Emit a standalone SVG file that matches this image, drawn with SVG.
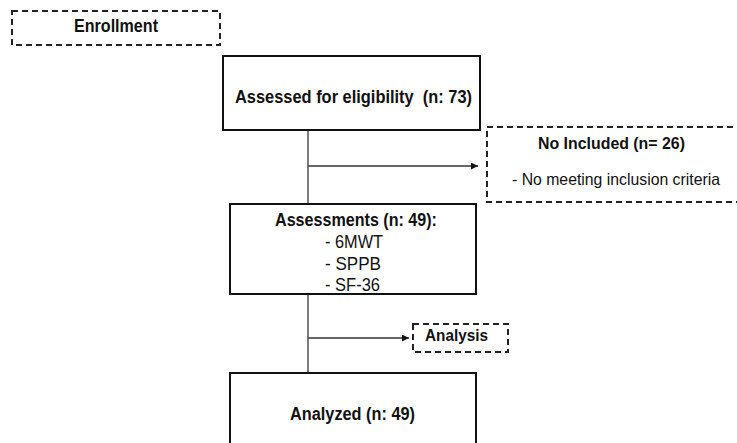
<svg xmlns="http://www.w3.org/2000/svg" width="737" height="443" viewBox="0 0 737 443">
<defs>
<style>
.box{fill:#fff;stroke:#111;stroke-width:2}
.dash{fill:#fff;stroke:#222;stroke-width:2;stroke-dasharray:6,4}
.t{font-family:"Liberation Sans",Arial,sans-serif;font-size:18px;fill:#111;text-anchor:middle}
.s{font-size:16.5px}
.b{font-weight:bold}
.conn{stroke:#333;stroke-width:1.3;fill:none}
</style>
<marker id="arr" viewBox="0 0 10 10" refX="10" refY="5" markerWidth="8" markerHeight="7" markerUnits="userSpaceOnUse" orient="auto"><path d="M0,0L10,5L0,10z" fill="#111"/></marker>
</defs>
<rect width="737" height="443" fill="#fff"/>
<g id="connectors">
<line class="conn" x1="308" y1="130" x2="308" y2="204"/>
<line class="conn" x1="308" y1="166" x2="478" y2="166" marker-end="url(#arr)"/>
<line class="conn" x1="308" y1="294" x2="308" y2="373"/>
<line class="conn" x1="308" y1="338" x2="409" y2="338" marker-end="url(#arr)"/>
</g>
<g id="enrollment">
<rect class="dash" x="12" y="11" width="208" height="34"/>
<text class="t b" x="116" y="32" textLength="84" lengthAdjust="spacingAndGlyphs">Enrollment</text>
</g>
<g id="assessed">
<rect class="box" x="223" y="56" width="257" height="74"/>
<text class="t b" x="353.5" y="102.5" textLength="237" lengthAdjust="spacingAndGlyphs" xml:space="preserve">Assessed for eligibility  (n: 73)</text>
</g>
<g id="excluded">
<rect class="dash" x="487" y="127" width="260" height="75"/>
<text class="t s b" x="611.5" y="149" textLength="147" lengthAdjust="spacingAndGlyphs">No Included (n= 26)</text>
<text class="t s" x="616" y="185" textLength="208" lengthAdjust="spacingAndGlyphs">- No meeting inclusion criteria</text>
</g>
<g id="assessments">
<rect class="box" x="230" y="204" width="246" height="90"/>
<text class="t b" x="356" y="226" textLength="162" lengthAdjust="spacingAndGlyphs">Assessments (n: 49):</text>
<text class="t" x="354" y="248" textLength="58" lengthAdjust="spacingAndGlyphs">- 6MWT</text>
<text class="t" x="353" y="270" textLength="56" lengthAdjust="spacingAndGlyphs">- SPPB</text>
<text class="t" x="352.5" y="291" textLength="55" lengthAdjust="spacingAndGlyphs">- SF-36</text>
</g>
<g id="analysis">
<rect class="dash" x="413" y="324" width="95" height="28"/>
<text class="t b" x="456.5" y="341" textLength="63" lengthAdjust="spacingAndGlyphs" style="font-size:16px">Analysis</text>
</g>
<g id="analyzed">
<rect class="box" x="230" y="373" width="246" height="80"/>
<text class="t b" x="352.5" y="420" textLength="125" lengthAdjust="spacingAndGlyphs">Analyzed (n: 49)</text>
</g>
</svg>
